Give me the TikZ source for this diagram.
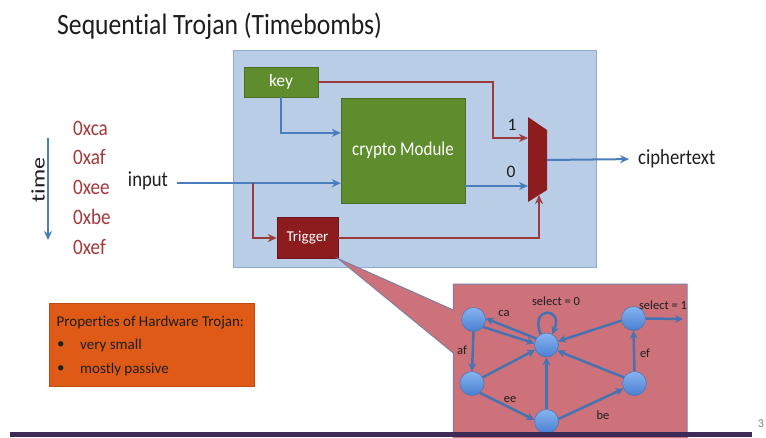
\documentclass[tikz,border=0pt]{standalone}
\usepackage{graphicx}
\usepackage{fontspec}
\setmainfont{Carlito}[Ligatures=NoCommon]
\usetikzlibrary{arrows.meta,calc}

\definecolor{panelfill}{HTML}{B9CDE6}
\definecolor{paneldraw}{HTML}{8FAAD0}
\definecolor{modgreen}{HTML}{5F8C2C}
\definecolor{trojred}{HTML}{8C1C1E}
\definecolor{wirered}{HTML}{9C3A3C}
\definecolor{wireblue}{HTML}{4A7DBE}
\definecolor{hexred}{HTML}{A5383A}
\definecolor{propfill}{HTML}{DE5A16}
\definecolor{callfill}{HTML}{CD727A}
\definecolor{calldraw}{HTML}{7E7FA2}
\definecolor{statetop}{HTML}{86B4F0}
\definecolor{statebot}{HTML}{4A7FD2}
\definecolor{stateedge}{HTML}{4672B2}
\definecolor{barpurple}{HTML}{3D2A56}
\definecolor{txt}{HTML}{1E1E1E}

% narrow set for the larger slide lettering
\newcommand{\narrowtext}[1]{\scalebox{0.87}[1]{#1}}

\tikzset{
  arr/.style={-{Stealth[length=9pt,width=8pt]}},
  blueline/.style={arr, draw=wireblue, line width=2pt},
  redline/.style={arr, draw=wirered, line width=2pt},
  greenbox/.style={fill=modgreen, draw=modgreen!80!black, line width=0.4pt,
    text=white, inner sep=0pt},
  redbox/.style={fill=trojred, draw=trojred!80!black, line width=0.4pt,
    text=white, inner sep=0pt},
  hexval/.style={text=hexred, font=\fontsize{22}{24}\selectfont, anchor=west, inner sep=0pt},
  statenode/.style={circle, minimum size=24pt, inner sep=0pt,
    top color=statetop, bottom color=statebot, draw=stateedge, line width=0.5pt},
  sedge/.style={-{Stealth[length=8pt,width=8pt]}, draw=stateedge, line width=2.5pt},
  slabel/.style={text=txt, font=\fontsize{12.5}{14}\selectfont, inner sep=0pt},
  proptext/.style={text=txt, font=\fontsize{15}{17}\selectfont, anchor=west, inner sep=0pt}
}

\begin{document}
\begin{tikzpicture}[x=1pt,y=-1pt]
\useasboundingbox (0,0) rectangle (766,437);
\fill[white] (0,0) rectangle (766,437);

% title
\node[anchor=west, text=txt, font=\fontsize{29.5}{33}\selectfont, inner sep=0pt]
  (title) at (57,26) {\narrowtext{Sequential Trojan (Timebombs)}};

% circuit panel
\node[fill=panelfill, draw=paneldraw, line width=0.8pt, minimum width=363pt,
  minimum height=217pt, inner sep=0pt] (panel) at (414.5,158.5) {};

\node[greenbox, minimum width=74pt, minimum height=30pt,
  font=\fontsize{17.5}{20}\selectfont] (key) at (281,82) {key};
\node[greenbox, minimum width=124pt, minimum height=105pt,
  font=\fontsize{19.5}{22}\selectfont] (crypto) at (403,150.5) {\narrowtext{crypto Module}};
\node[redbox, minimum width=61pt, minimum height=41pt,
  font=\fontsize{15}{17}\selectfont] (trigger) at (307.5,238) {Trigger};

% multiplexer
\fill[trojred] (528,117) -- (547,130) -- (547,190) -- (528,202) -- cycle;
\coordinate (muxone) at (528,138);
\coordinate (muxzero) at (528,186);
\coordinate (muxsel) at (539,195);
\coordinate (muxout) at (547,160);
\coordinate (keyturn) at (493,82);
\coordinate (cryptokey) at ($(crypto.north west)!0.333!(crypto.south west)$);
\coordinate (cryptoin) at ($(crypto.north west)!0.81!(crypto.south west)$);
\coordinate (branch) at (253,183);

\node[text=txt, font=\fontsize{17.5}{20}\selectfont, inner sep=0pt] (one) at (512,125) {1};
\node[text=txt, font=\fontsize{17.5}{20}\selectfont, inner sep=0pt] (zero) at (511,172) {0};

% inputs and outputs
\node[text=txt, font=\fontsize{21.5}{24}\selectfont, inner sep=0pt] (input) at (148,181)
  {\narrowtext{input}};
\node[text=txt, font=\fontsize{21.5}{24}\selectfont, anchor=west, inner sep=0pt]
  (cipher) at (638,159) {\narrowtext{ciphertext}};

\draw[redline] (key.east) -- (keyturn) |- (muxone);
\draw[blueline] (key.south) |- (cryptokey);
\draw[blueline, shorten <=9pt] (input.east |- cryptoin) -- (cryptoin);
\draw[redline] (branch) |- (trigger.west);
\draw[redline] (trigger.east) -| (muxsel);
\draw[blueline] (crypto.east |- muxzero) -- (muxzero);
\draw[blueline, shorten >=9pt] (muxout) -- (cipher.west);

% input sequence over time
\node[hexval] (v1) at (73,128) {\narrowtext{0xca}};
\node[hexval] (v2) at (73,157) {\narrowtext{0xaf}};
\node[hexval] (v3) at (73,187) {\narrowtext{0xee}};
\node[hexval] (v4) at (73,217) {\narrowtext{0xbe}};
\node[hexval] (v5) at (73,247) {\narrowtext{0xef}};
\node[rotate=90, text=txt, font=\fontsize{24}{27}\selectfont, inner sep=0pt]
  (time) at (38,180) {\scalebox{1}[0.8]{time}};
\coordinate (tstart) at (48,138);
\coordinate (tend) at (48,240);
\draw[blueline] (tstart) -- (tend);

% properties box
\node[fill=propfill, draw=propfill!85!black, line width=0.4pt, minimum width=205pt,
  minimum height=83pt, inner sep=0pt] (props) at (151.5,344.5) {};
\node[proptext] (ph) at (56.5,323) {Properties of Hardware Trojan:};
\node[proptext] (b1) at (57,345.5) {•};
\node[proptext] (p1) at (80,345.5) {very small};
\node[proptext] (b2) at (57,369.5) {•};
\node[proptext] (p2) at (80,369.5) {mostly passive};

% callout with the trigger state machine
\fill[callfill, draw=calldraw, line width=1pt, line join=miter]
  (trigger.south east) -- (453.3,310) -- (453.3,284) -- (687,284) -- (687,445)
  -- (453.3,445) -- (453.3,353) -- cycle;

\node[statenode] (A) at (473.5,319.5) {};
\node[statenode] (C) at (546.5,345) {};
\node[statenode] (B) at (472,383.5) {};
\node[statenode] (D) at (546.5,421.5) {};
\node[statenode] (E) at (634.5,383.5) {};
\node[statenode] (F) at (633.5,318.5) {};
\coordinate (fout) at (683,319);

\draw[sedge] (A.south) -- (B.north);
\draw[sedge] (C.148) -- (A.5);
\draw[sedge] (A.-38) -- (C.172);
\draw[sedge] (B.30) -- (C.203);
\draw[sedge] (B.-50) -- (D.172);
\draw[sedge] (D.north) -- (C.south);
\draw[sedge] (D.12) -- (E.205);
\draw[sedge] (E.150) -- (C.-28);
\draw[sedge] (E.north) -- (F.south);
\draw[sedge] (F.190) -- (C.18);
\draw[sedge] (F.east) -- (fout);
\draw[sedge] (C.118) .. controls +(-12,-28) and +(12,-28) .. (C.62);

\node[slabel] (laf) at (462,350) {af};
\node[slabel] (lca) at (504,314) {ca};
\node[slabel] (lee) at (510,400) {ee};
\node[slabel] (lbe) at (603,415) {be};
\node[slabel] (lef) at (645,353) {ef};
\node[slabel] (lsel0) at (556,301) {select = 0};
\node[slabel] (lsel1) at (663,305) {select = 1};

% footer
\fill[barpurple] (10,432) rectangle (752,437);
\node[text=gray, font=\fontsize{12}{14}\selectfont, inner sep=0pt] (pageno) at (761,424) {3};
\end{tikzpicture}
\end{document}
